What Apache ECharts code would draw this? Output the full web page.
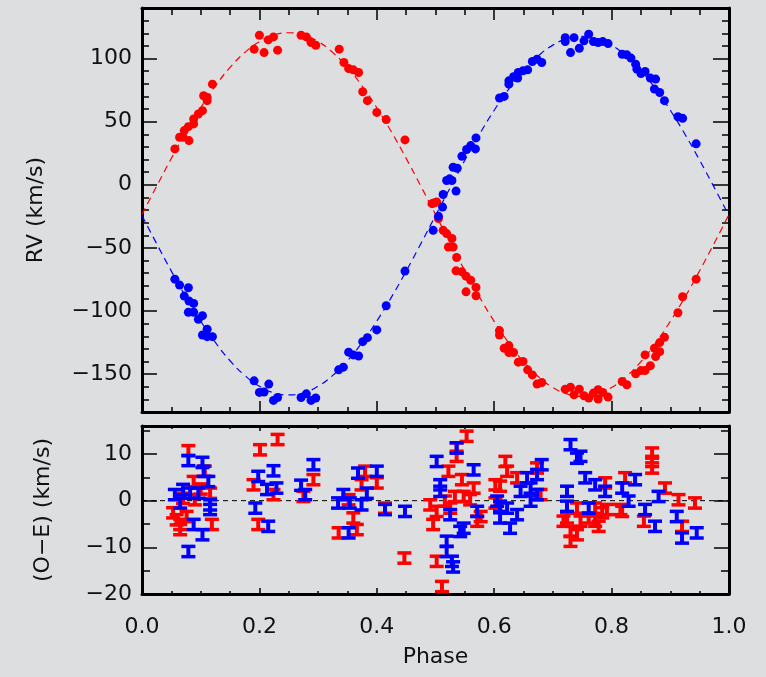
<!DOCTYPE html>
<html>
<head>
<meta charset="utf-8">
<script src="https://cdn.jsdelivr.net/npm/echarts@6/dist/echarts.min.js"></script>
<style>
html,body{margin:0;padding:0;background:#dddee0;}
#chart{width:766px;height:677px;}
</style>
</head>
<body>
<div id="chart"></div>
<script>
// ---------- data ----------
const xTicks = [0, 0.2, 0.4, 0.6, 0.8, 1.0];
const rvMajorTicks = [-150, -100, -50, 0, 50, 100];
const rvMinorTicks = [-170,-160,-140,-130,-120,-110,-90,-80,-70,-60,-40,-30,-20,-10,10,20,30,40,60,70,80,90,110,120,130];
const resMajorTicks = [-20, -10, 0, 10];
const resMinorTicks = [-15, -5, 5, 15];

const modelPhase = [0,0.025,0.05,0.075,0.1,0.125,0.15,0.175,0.2,0.225,0.25,0.275,0.3,0.325,0.35,0.375,0.4,0.425,0.45,0.475,0.5,0.525,0.55,0.575,0.6,0.625,0.65,0.675,0.7,0.725,0.75,0.775,0.8,0.825,0.85,0.875,0.9,0.925,0.95,0.975,1.0];
const redModel = [-23.6,-1.1,20.9,41.8,61.0,78.2,92.9,104.7,113.4,118.6,120.4,118.6,113.4,104.7,92.9,78.2,61.0,41.8,20.9,-1.1,-23.6,-46.1,-68.1,-89.0,-108.2,-125.4,-140.1,-151.9,-160.6,-165.8,-167.6,-165.8,-160.6,-151.9,-140.1,-125.4,-108.2,-89.0,-68.1,-46.1,-23.6];
const blueModel = [-24.5,-46.7,-68.4,-89.0,-108.0,-124.9,-139.4,-151.0,-159.6,-164.8,-166.5,-164.8,-159.6,-151.0,-139.4,-124.9,-108.0,-89.0,-68.4,-46.7,-24.5,-2.3,19.4,40.0,59.0,75.9,90.4,102.0,110.6,115.8,117.5,115.8,110.6,102.0,90.4,75.9,59.0,40.0,19.4,-2.3,-24.5];

const redRV = [[0.056,28.4],[0.064,37.6],[0.070,37.6],[0.072,42.9],[0.080,35.0],[0.079,46.0],[0.088,48.2],[0.088,52.1],[0.096,56.0],[0.103,58.7],[0.111,66.6],[0.111,69.2],[0.105,70.5],[0.120,79.7],
[0.191,107.4],[0.200,118.4],[0.208,104.7],[0.215,114.7],[0.224,117.1],[0.231,106.6],
[0.271,118.4],[0.280,117.1],[0.288,112.6],[0.296,110.5],
[0.336,107.4],[0.344,96.8],[0.352,92.0],[0.360,91.0],[0.369,88.9],[0.376,73.7],[0.384,66.6],[0.400,57.3],[0.416,51.6],[0.448,35.5],
[0.494,-15.0],[0.497,-14.5],[0.502,-13.7],[0.505,-26.8],[0.513,-36.1],[0.519,-38.7],[0.528,-42.6],[0.522,-49.3],[0.530,-49.3],[0.536,-57.6],[0.535,-68.2],[0.545,-69.0],[0.552,-72.4],[0.560,-75.6],[0.552,-84.8],[0.569,-81.3],[0.569,-87.9],
[0.609,-115.5],[0.609,-119.0],[0.617,-129.5],[0.625,-127.4],[0.625,-132.9],[0.633,-132.9],[0.641,-140.5],[0.649,-140.0],[0.657,-146.6],[0.665,-150.6],[0.673,-157.9],[0.681,-156.6],
[0.721,-161.9],[0.730,-160.3],[0.736,-166.3],[0.745,-161.9],[0.753,-167.1],[0.761,-168.9],[0.769,-165.0],[0.777,-169.7],[0.777,-162.4],[0.785,-164.5],[0.794,-168.2],
[0.818,-155.8],[0.826,-158.4],[0.841,-149.8],[0.850,-147.2],[0.857,-147.2],[0.857,-134.8],[0.866,-143.4],[0.875,-136.1],[0.873,-129.5],[0.882,-132.2],[0.882,-125.0],[0.890,-120.8],[0.913,-101.4],[0.921,-88.7],[0.944,-74.8]];

const blueRV = [[0.056,-74.8],[0.064,-79.5],[0.079,-81.6],[0.072,-88.2],[0.080,-92.1],[0.088,-94.0],[0.079,-101.0],[0.088,-101.0],[0.096,-106.6],[0.103,-103.7],[0.111,-114.5],[0.103,-119.0],[0.111,-120.3],[0.120,-120.3],
[0.191,-155.3],[0.200,-164.5],[0.208,-164.2],[0.216,-157.9],[0.224,-170.8],[0.231,-168.5],
[0.271,-168.5],[0.280,-165.6],[0.288,-170.8],[0.296,-168.9],
[0.335,-146.6],[0.343,-144.5],[0.352,-132.6],[0.360,-134.8],[0.369,-135.6],[0.376,-124.3],[0.384,-121.1],[0.400,-115.0],[0.416,-95.8],[0.448,-68.4],
[0.496,-36.1],[0.505,-25.0],[0.512,-17.7],[0.513,-7.7],[0.519,3.4],[0.524,4.7],[0.528,3.4],[0.535,-5.0],[0.530,13.9],[0.537,13.1],[0.545,22.6],[0.553,27.9],[0.560,31.0],[0.568,28.4],[0.569,37.1],
[0.609,68.7],[0.617,70.0],[0.625,79.7],[0.625,82.3],[0.633,85.5],[0.640,84.5],[0.641,88.9],[0.649,90.2],[0.657,91.0],[0.665,97.6],[0.673,99.5],[0.681,96.8],
[0.721,116.5],[0.721,113.4],[0.730,104.7],[0.736,116.5],[0.745,108.1],[0.753,114.0],[0.761,119.2],[0.769,113.4],[0.777,112.6],[0.785,113.4],[0.794,111.8],
[0.818,103.4],[0.826,102.9],[0.833,100.3],[0.841,95.5],[0.843,91.6],[0.850,88.1],[0.857,89.7],[0.866,84.5],[0.875,83.7],[0.873,75.8],[0.882,73.1],[0.890,66.6],[0.913,53.9],[0.921,52.6],[0.944,32.4]];

const redRes = [[0.079,10.7],[0.088,4.1],[0.107,6.3],[0.116,1.6],[0.053,-2.6],[0.059,-4.1],[0.065,-5.1],[0.065,-6.2],[0.076,-3.4],[0.119,-5.1],[0.070,0.5],[0.090,0.2],[0.100,2.5],
[0.201,10.9],[0.231,13.1],[0.190,3.4],[0.198,-5.1],[0.224,1.3],
[0.292,4.5],[0.275,0.9],[0.380,6.3],[0.400,3.8],[0.360,-3.7],[0.366,-6.2],[0.335,-6.9],[0.414,-1.6],[0.447,-12.3],[0.352,0.2],[0.374,3.4],
[0.553,13.8],[0.536,11.3],[0.536,9.5],[0.522,6.3],[0.545,4.5],[0.565,2.7],[0.502,-13.0],[0.511,-18.4],[0.619,8.4],[0.622,6.3],[0.610,3.1],[0.639,4.9],[0.673,7.0],[0.679,1.3],
[0.491,-0.9],[0.502,-2.3],[0.516,-0.1],[0.525,-1.6],[0.533,0.9],[0.548,0.9],[0.559,0.2],[0.496,-5.1],[0.571,-4.4],[0.577,-3.4],[0.602,3.4],[0.602,-0.5],
[0.724,-3.7],[0.730,-6.6],[0.730,-8.7],[0.718,-4.4],[0.741,-1.6],[0.747,-4.4],[0.761,-3.7],[0.772,-4.4],[0.741,-7.3],[0.772,-1.6],
[0.869,10.2],[0.869,8.4],[0.869,7.0],[0.823,4.9],[0.891,2.7],[0.914,0.2],[0.942,-0.5],[0.920,-5.5],[0.789,3.8],[0.784,-2.6],[0.778,-5.5],[0.818,-2.3],[0.855,-4.4],[0.792,-1.9],[0.815,-1.9]];

const blueRes = [[0.079,8.6],[0.103,8.2],[0.105,6.3],[0.113,4.1],[0.056,1.3],[0.070,2.4],[0.082,1.6],[0.096,1.6],[0.065,-0.5],[0.116,-0.9],[0.116,-1.9],[0.088,-5.1],[0.103,-7.3],[0.079,-10.9],
[0.193,-1.6],[0.198,5.2],[0.224,6.4],[0.213,2.4],[0.229,2.7],[0.215,-5.5],
[0.292,7.7],[0.271,3.3],[0.278,1.3],[0.343,1.3],[0.334,-0.5],[0.354,-0.5],[0.374,-0.9],[0.352,-6.9],[0.368,5.9],[0.400,6.3],[0.383,1.6],[0.414,-1.9],[0.448,-2.3],
[0.502,8.4],[0.565,6.6],[0.536,11.3],[0.508,3.4],[0.508,2.0],[0.571,-2.3],[0.525,-3.0],[0.548,-5.9],[0.542,-6.6],[0.519,-8.7],[0.519,-10.9],[0.528,-13.0],[0.530,-14.2],
[0.681,7.7],[0.656,4.9],[0.662,2.7],[0.673,1.3],[0.610,-1.2],[0.610,-3.7],[0.627,-5.9],[0.639,-3.0],[0.605,-0.1],[0.622,-1.6],[0.645,2.0],[0.662,-0.1],[0.673,5.6],
[0.730,12.0],[0.741,9.1],[0.724,2.0],[0.724,-1.2],
[0.747,9.5],[0.755,4.9],[0.772,3.4],[0.789,2.0],[0.818,2.7],[0.840,4.5],[0.829,-0.1],[0.857,-1.9],[0.874,-5.5],[0.880,0.9],[0.911,-3.4],[0.920,-8.0],[0.945,-6.9],[0.761,-1.6]];

const resError = 1.1;
const zeroLine = [[0, 0], [1, 0]];

// ---------- chart ----------
const FONT = 'DejaVu Sans';
const TXT = '#111';
const fmtMinus = v => String(v).replace('-', '\u2212');

function xAx(gridIndex, position, tickLen, minorLen, showLabel) {
  return {
    type: 'value', gridIndex, position, min: 0, max: 1, interval: 0.2,
    axisLine: { show: true, onZero: false, lineStyle: { color: '#000', width: 3 } },
    axisTick: { show: true, inside: true, length: tickLen, lineStyle: { color: '#000', width: 1.5 } },
    minorTick: { show: true, splitNumber: 4, length: minorLen, lineStyle: { color: '#000', width: 1.5 } },
    splitLine: { show: false }, minorSplitLine: { show: false },
    axisLabel: { show: showLabel, margin: 22, fontFamily: FONT, fontSize: 22, color: TXT,
                 formatter: v => v.toFixed(1) }
  };
}
function yAx(gridIndex, position, min, max, ticks, tickLen, showLine, showLabel) {
  return {
    type: 'value', gridIndex, position, min, max,
    axisLine: { show: showLine, onZero: false, lineStyle: { color: '#000', width: 3 } },
    axisTick: { show: true, inside: true, length: tickLen, customValues: ticks, lineStyle: { color: '#000', width: 1.5 } },
    splitLine: { show: false },
    axisLabel: { show: showLabel, customValues: ticks, margin: 10, fontFamily: FONT, fontSize: 22, color: TXT, formatter: fmtMinus }
  };
}

const xAxes = [
  xAx(0, 'bottom', 11, 5, false),
  xAx(0, 'top', 12, 7, false),
  Object.assign(xAx(1, 'bottom', 6, 3, true), { name: 'Phase', nameLocation: 'middle', nameGap: 52,
      nameTextStyle: { fontFamily: FONT, fontSize: 22, color: TXT } }),
  xAx(1, 'top', 5, 3, false)
];
const yAxes = [
  Object.assign(yAx(0, 'left', -180, 140, rvMajorTicks, 15, true, true), { name: 'RV (km/s)', nameLocation: 'middle', nameGap: 95,
      nameTextStyle: { fontFamily: FONT, fontSize: 22, color: TXT } }),
  yAx(0, 'left', -180, 140, rvMinorTicks, 7, false, false),
  yAx(0, 'right', -180, 140, rvMajorTicks, 16, true, false),
  yAx(0, 'right', -180, 140, rvMinorTicks, 7, false, false),
  Object.assign(yAx(1, 'left', -20, 16, resMajorTicks, 15, true, true), { name: '(O\u2212E) (km/s)', nameLocation: 'middle', nameGap: 88,
      nameTextStyle: { fontFamily: FONT, fontSize: 22, color: TXT } }),
  yAx(1, 'left', -20, 16, resMinorTicks, 8, false, false),
  yAx(1, 'right', -20, 16, resMajorTicks, 15, true, false),
  yAx(1, 'right', -20, 16, resMinorTicks, 8, false, false)
];

function errRender(color) {
  return function (params, api) {
    const x = api.value(0), y = api.value(1), e = api.value(2);
    const t = api.coord([x, y + e]);
    const b = api.coord([x, y - e]);
    const hw = 7;
    return {
      type: 'group',
      children: [
        { type: 'line', shape: { x1: t[0], y1: t[1], x2: b[0], y2: b[1] }, style: { stroke: color, lineWidth: 4 } },
        { type: 'line', shape: { x1: t[0] - hw, y1: t[1], x2: t[0] + hw, y2: t[1] }, style: { stroke: color, lineWidth: 3.5 } },
        { type: 'line', shape: { x1: b[0] - hw, y1: b[1], x2: b[0] + hw, y2: b[1] }, style: { stroke: color, lineWidth: 3.5 } }
      ]
    };
  };
}

const chart = echarts.init(document.getElementById('chart'), null, { renderer: 'canvas' });
chart.setOption({
  animation: false,
  backgroundColor: '#dddee0',
  grid: [
    { left: 142, right: 37, top: 8, height: 404 },
    { left: 142, right: 37, top: 426, height: 168 }
  ],
  xAxis: xAxes,
  yAxis: yAxes,
  series: [
    { type: 'line', xAxisIndex: 0, yAxisIndex: 0, data: modelPhase.map((p, i) => [p, redModel[i]]),
      smooth: true, showSymbol: false, lineStyle: { color: '#ff0000', width: 1.2, type: [7, 5] }, z: 1 },
    { type: 'line', xAxisIndex: 0, yAxisIndex: 0, data: modelPhase.map((p, i) => [p, blueModel[i]]),
      smooth: true, showSymbol: false, lineStyle: { color: '#0000ff', width: 1.2, type: [7, 5] }, z: 1 },
    { type: 'scatter', xAxisIndex: 0, yAxisIndex: 0, data: redRV, symbolSize: 9,
      itemStyle: { color: '#ff0000', opacity: 1 }, z: 3 },
    { type: 'scatter', xAxisIndex: 0, yAxisIndex: 0, data: blueRV, symbolSize: 9,
      itemStyle: { color: '#0000ff', opacity: 1 }, z: 3 },
    { type: 'line', xAxisIndex: 2, yAxisIndex: 4, data: zeroLine, showSymbol: false,
      lineStyle: { color: '#000', width: 1, type: [5, 4] }, z: 1 },
    { type: 'custom', xAxisIndex: 2, yAxisIndex: 4, data: redRes.map(d => [d[0], d[1], resError]),
      renderItem: errRender('#ff0000'), encode: { x: 0, y: 1 }, z: 3 },
    { type: 'custom', xAxisIndex: 2, yAxisIndex: 4, data: blueRes.map(d => [d[0], d[1], resError]),
      renderItem: errRender('#0000ff'), encode: { x: 0, y: 1 }, z: 3 }
  ]
});
</script>
</body>
</html>
